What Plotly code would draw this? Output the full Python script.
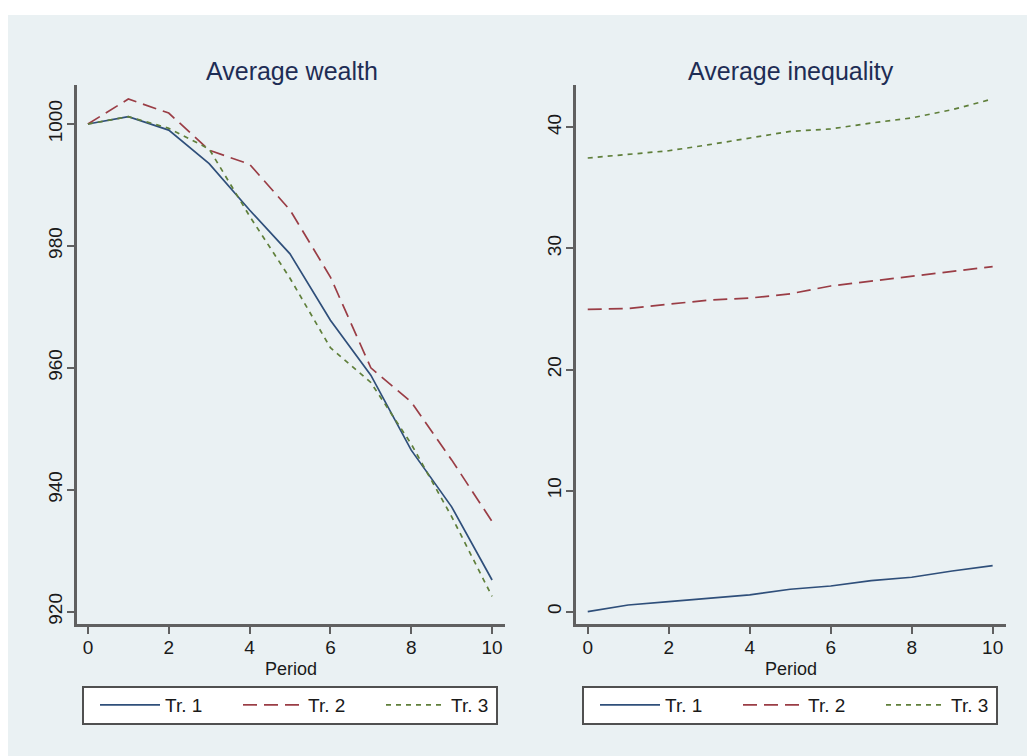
import plotly.graph_objects as go

# Simulation output: average wealth and inequality per period, three treatments
period = list(range(11))
treatments = ["Tr. 1", "Tr. 2", "Tr. 3"]

wealth_tr1 = [1000, 1001.2, 999.0, 993.5, 985.9, 978.7, 967.8, 958.8, 946.5, 937.2, 925.2]
wealth_tr2 = [1000, 1004.1, 1001.8, 995.7, 993.4, 985.9, 974.9, 960.0, 954.4, 944.9, 934.8]
wealth_tr3 = [1000, 1001.2, 999.3, 995.9, 984.9, 974.7, 963.3, 957.6, 947.5, 935.6, 922.5]

ineq_tr1 = [0.0, 0.55, 0.83, 1.1, 1.38, 1.85, 2.12, 2.56, 2.84, 3.36, 3.8]
ineq_tr2 = [24.96, 25.04, 25.4, 25.73, 25.9, 26.25, 26.9, 27.3, 27.7, 28.1, 28.5]
ineq_tr3 = [37.47, 37.8, 38.07, 38.57, 39.1, 39.67, 39.87, 40.36, 40.78, 41.46, 42.35]

wealth_ticks = [920, 940, 960, 980, 1000]
ineq_ticks = [0, 10, 20, 30, 40]
period_ticks = [0, 2, 4, 6, 8, 10]

W, H = 1027, 756
colors = ["#2f4f7a", "#9a3d45", "#5f7f3a"]
dashes = ["solid", "14px,7px", "5px,5px"]
BG = "#eaf1f3"
FONT = "Liberation Sans, Arial, sans-serif"


def px_x(v):
    return v / W


def px_y(v):
    return 1 - v / H


fig = go.Figure()

panels = [
    ("x", "y", "legend", [wealth_tr1, wealth_tr2, wealth_tr3]),
    ("x2", "y2", "legend2", [ineq_tr1, ineq_tr2, ineq_tr3]),
]
for xa, ya, leg, series in panels:
    for name, vals, col, dash in zip(treatments, series, colors, dashes):
        fig.add_trace(go.Scatter(
            x=period, y=vals, name=name, mode="lines",
            line=dict(color=col, width=1.7, dash=dash),
            xaxis=xa, yaxis=ya, legend=leg, showlegend=True,
        ))

tick_font = dict(family=FONT, size=19, color="#1a1a1a")
axis_common = dict(
    showline=True, linecolor="#606060", linewidth=3,
    ticks="outside", ticklen=7, tickwidth=2, tickcolor="#606060",
    zeroline=False, tickfont=tick_font, ticklabelstandoff=-3,
)
ydom = [px_y(624), px_y(85)]
legend_common = dict(
    orientation="h", xanchor="left", y=px_y(705), yanchor="middle",
    bgcolor="rgba(0,0,0,0)", font=dict(family=FONT, size=19, color="#1a1a1a"),
    entrywidth=68, itemwidth=60, traceorder="normal",
)
period_title = dict(text="Period", font=dict(size=18), standoff=6)

fig.update_layout(
    width=W, height=H, autosize=False,
    margin=dict(l=0, r=0, t=0, b=0),
    paper_bgcolor="white", plot_bgcolor="white",
    font=dict(family=FONT, color="#1a1a1a"),
    xaxis=dict(domain=[px_x(77), px_x(505)], range=[-0.27, 10.32],
               tickvals=period_ticks, showgrid=False, anchor="y",
               title=period_title, **axis_common),
    yaxis=dict(domain=ydom, range=[917.98, 1006.4], tickvals=wealth_ticks,
               tickangle=-90, showgrid=True, gridcolor=BG, gridwidth=2,
               anchor="x", **axis_common),
    xaxis2=dict(domain=[px_x(576), px_x(1006)], range=[-0.29, 10.33],
                tickvals=period_ticks, showgrid=False, anchor="y2",
                title=period_title, **axis_common),
    yaxis2=dict(domain=ydom, range=[-1.02, 43.5], tickvals=ineq_ticks,
                tickangle=-90, showgrid=True, gridcolor=BG, gridwidth=2,
                anchor="x2", **axis_common),
    legend=dict(x=px_x(95), **legend_common),
    legend2=dict(x=px_x(595), **legend_common),
    shapes=[
        # light backdrop behind the whole graph region
        dict(type="rect", xref="paper", yref="paper", layer="below",
             x0=px_x(8), x1=1, y0=0, y1=px_y(15),
             fillcolor=BG, line=dict(width=0)),
        # legend boxes
        dict(type="rect", xref="paper", yref="paper", layer="below",
             x0=px_x(83), x1=px_x(497), y0=px_y(724), y1=px_y(687),
             fillcolor="white", line=dict(color="#505050", width=2)),
        dict(type="rect", xref="paper", yref="paper", layer="below",
             x0=px_x(583), x1=px_x(997), y0=px_y(724), y1=px_y(687),
             fillcolor="white", line=dict(color="#505050", width=2)),
    ],
    annotations=[
        dict(text="Average wealth", xref="paper", yref="paper",
             x=px_x(292), y=px_y(71), xanchor="center", yanchor="middle",
             showarrow=False, font=dict(family=FONT, size=25, color="#1e2d55")),
        dict(text="Average inequality", xref="paper", yref="paper",
             x=px_x(791), y=px_y(71), xanchor="center", yanchor="middle",
             showarrow=False, font=dict(family=FONT, size=25, color="#1e2d55")),
    ],
)

fig.write_html("out.html", config={"responsive": False})
